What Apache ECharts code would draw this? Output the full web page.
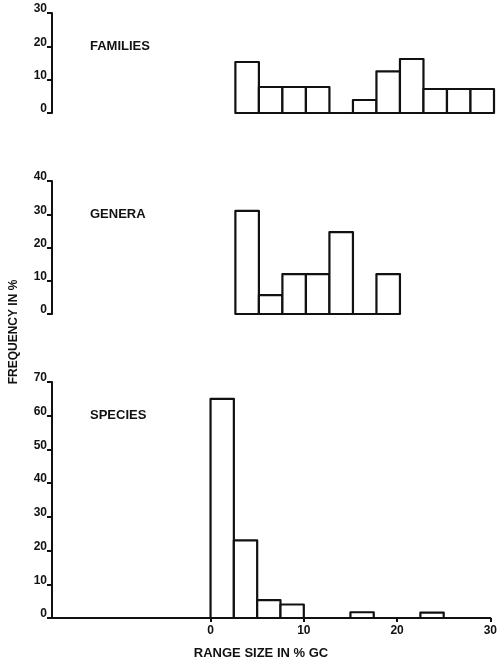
<!DOCTYPE html>
<html>
<head>
<meta charset="utf-8">
<script src="https://cdn.jsdelivr.net/npm/echarts@6/dist/echarts.min.js"></script>
<style>
  html, body { margin: 0; padding: 0; background: #fff; }
  #chart { width: 500px; height: 663px; }
</style>
</head>
<body>
<div id="chart"></div>
<script>
// bins are 2.5 % GC wide, given by their left edge
const binWidth = 2.5
const familiesStart = [2.5, 5, 7.5, 10, 12.5, 15, 17.5, 20, 22.5, 25, 27.5]
const familiesFreq = [15.3, 7.8, 7.8, 7.8, 0, 3.9, 12.5, 16.2, 7.2, 7.2, 7.2]
const generaStart = [2.5, 5, 7.5, 10, 12.5, 15, 17.5]
const generaFreq = [31, 5.7, 12, 12, 24.6, 0, 12]
const speciesStart = [0, 2.5, 5, 7.5, 15, 22.5]
const speciesFreq = [65, 23, 5.3, 4, 1.7, 1.6]
const xTicks = [0, 10, 20, 30]
const panelNames = ['FAMILIES', 'GENERA', 'SPECIES']
const yMax = [30, 40, 70]

const ink = '#111'
const font = 'Liberation Sans'

const chart = echarts.init(document.getElementById('chart'))

function toBins(starts, freqs) {
  return starts.map((s, i) => [s, s + binWidth, freqs[i]])
}

// polygon instead of rect so an empty bin still shows its base line
function renderBar(params, api) {
  const a = api.coord([api.value(0), 0])
  const b = api.coord([api.value(0), api.value(2)])
  const c = api.coord([api.value(1), api.value(2)])
  const d = api.coord([api.value(1), 0])
  return {
    type: 'polygon',
    shape: { points: [a, b, c, d] },
    style: { fill: '#fff', stroke: ink, lineWidth: 2.2, lineJoin: 'round' }
  }
}

const grids = [
  { left: 52, right: 6, top: 13, height: 100 },
  { left: 52, right: 6, top: 181, height: 133 },
  { left: 52, right: 6, top: 382, height: 236 }
]

const xAxes = grids.map((g, i) => ({
  type: 'value',
  gridIndex: i,
  min: -17,
  max: 30,
  show: i === 2,
  splitLine: { show: false },
  axisLine: { show: true, onZero: false, lineStyle: { color: ink, width: 2 } },
  axisTick: { show: true, length: 4, customValues: xTicks, lineStyle: { color: ink, width: 2 } },
  axisLabel: {
    customValues: xTicks,
    color: ink,
    fontFamily: font,
    fontWeight: 'bold',
    fontSize: 12,
    margin: 7
  }
}))

const yAxes = grids.map((g, i) => ({
  type: 'value',
  gridIndex: i,
  min: 0,
  max: yMax[i],
  interval: 10,
  splitLine: { show: false },
  axisLine: { show: true, onZero: false, lineStyle: { color: ink, width: 2 } },
  axisTick: { show: true, length: 5, lineStyle: { color: ink, width: 2 } },
  axisLabel: {
    color: ink,
    fontFamily: font,
    fontWeight: 'bold',
    fontSize: 12,
    margin: 5,
    verticalAlign: 'bottom',
    padding: [0, 0, -2, 0]
  }
}))

const titleTops = [35, 203, 404]

chart.setOption({
  animation: false,
  backgroundColor: '#fff',
  title: panelNames.map((n, i) => ({
    text: n,
    left: 85,
    top: titleTops[i],
    textStyle: { color: ink, fontFamily: font, fontWeight: 'bold', fontSize: 13 }
  })),
  grid: grids,
  xAxis: xAxes,
  yAxis: yAxes,
  graphic: [
    {
      type: 'text',
      x: 14,
      y: 332,
      rotation: Math.PI / 2,
      style: {
        text: 'FREQUENCY IN %',
        fill: ink,
        font: 'bold 12px "Liberation Sans"',
        align: 'center',
        verticalAlign: 'middle'
      }
    },
    {
      type: 'text',
      x: 261,
      y: 653,
      style: {
        text: 'RANGE SIZE IN % GC',
        fill: ink,
        font: 'bold 13px "Liberation Sans"',
        align: 'center',
        verticalAlign: 'middle'
      }
    }
  ],
  series: [
    { type: 'custom', xAxisIndex: 0, yAxisIndex: 0, renderItem: renderBar, encode: { x: [0, 1], y: 2 }, data: toBins(familiesStart, familiesFreq) },
    { type: 'custom', xAxisIndex: 1, yAxisIndex: 1, renderItem: renderBar, encode: { x: [0, 1], y: 2 }, data: toBins(generaStart, generaFreq) },
    { type: 'custom', xAxisIndex: 2, yAxisIndex: 2, renderItem: renderBar, encode: { x: [0, 1], y: 2 }, data: toBins(speciesStart, speciesFreq) }
  ]
})
</script>
</body>
</html>
